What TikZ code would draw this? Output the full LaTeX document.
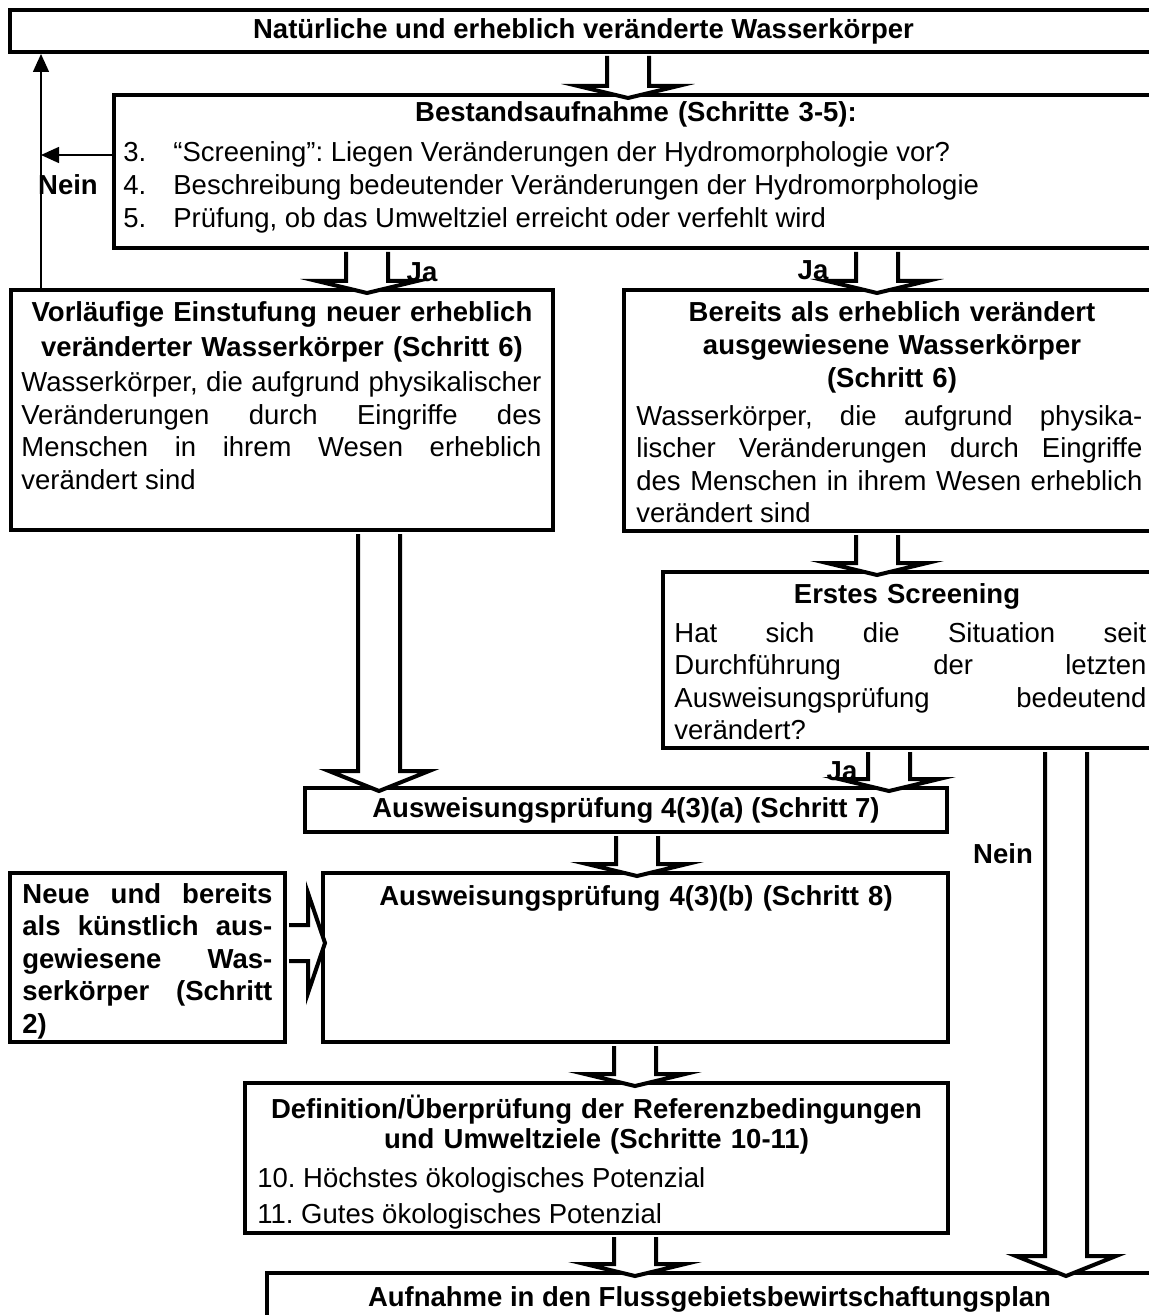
\documentclass[tikz,border=0pt]{standalone}
\usepackage{fontspec}
\setmainfont{Liberation Sans}
\usetikzlibrary{positioning,arrows.meta,calc}
\newcommand{\flowfont}{\fontsize{13.75pt}{16.25pt}\selectfont\frenchspacing\tolerance=10000 \hbadness=10000 \hyphenpenalty=10000 }
\newcommand{\flowbf}{\flowfont\bfseries}
% hollow block arrow downwards: [head length]{x}{from node}{to node}
\newcommand{\blockdown}[4][6pt]{%
  \filldraw[blockarrow] let \p1=(#3.south -| #2,0), \p2=(#4.north -| #2,0) in
    (\x1-10.5pt,\y1-1pt) -- (\x1-10.5pt,\y2-2.5pt+#1) -- (\x1-25pt,\y2-2.5pt+#1)
    -- (\x1,\y2-2.5pt) -- (\x1+25pt,\y2-2.5pt+#1) -- (\x1+10.5pt,\y2-2.5pt+#1)
    -- (\x1+10.5pt,\y1-1pt);}
% hollow block arrow to the right: {y}{from node}{to node}
\newcommand{\blockright}[3]{%
  \filldraw[blockarrow] let \p1=(#2.east |- 0,#1), \p2=(#3.west |- 0,#1) in
    (\x1+1pt,\y1+9pt) -- (\x2-6.5pt,\y1+9pt) -- (\x2-6.5pt,\y1+25pt)
    -- (\x2+2pt,\y1) -- (\x2-6.5pt,\y1-25pt) -- (\x2-6.5pt,\y1-9pt)
    -- (\x1+1pt,\y1-9pt);}

\begin{document}
\begin{tikzpicture}[x=0.5pt, y=-0.5pt,
  flowbox/.style={draw, line width=2pt, inner sep=0pt},
  boxtitle/.style={font=\flowbf, inner sep=0pt, align=center},
  boxtext/.style={font=\flowfont, inner sep=0pt, align=justify},
  yesno/.style={font=\flowbf, inner sep=0pt},
  blockarrow/.style={draw=black, fill=white, line width=2pt},
  thinarrow/.style={line width=0.75pt, -{Triangle[width=8pt,length=9pt]}}
]
  \fill[white] (0,0) rectangle (1149,1315);
  \useasboundingbox (0,0) rectangle (1149,1315);

  % Boxes (top to bottom)
  \node[flowbox, font=\flowbf, minimum width=573.5pt, minimum height=21pt]
    (natur) at (583.5,31) {Natürliche und erheblich veränderte Wasserkörper};
  \node[flowbox, minimum width=522pt, minimum height=76.5pt]
    (bestand) at (636,171.5) {};
  \node[flowbox, minimum width=271pt, minimum height=120pt]
    (vorl) at (282,410) {};
  \node[flowbox, minimum width=267pt, minimum height=120.5pt]
    (bereits) at (891,410.5) {};
  \node[flowbox, minimum width=244.5pt, minimum height=88pt]
    (erstes) at (907.5,660) {};
  \node[flowbox, font=\flowbf, minimum width=321pt, minimum height=22pt]
    (ausa) at (626,810) {Ausweisungsprüfung 4(3)(a) (Schritt 7)};
  \node[flowbox, minimum width=137.5pt, minimum height=84.5pt]
    (neue) at (147.5,957.5) {};
  \node[flowbox, minimum width=312.5pt, minimum height=84.5pt]
    (ausb) at (635.5,957.5) {};
  \node[flowbox, minimum width=351.5pt, minimum height=75pt]
    (defn) at (596.5,1158) {};
  \node[flowbox, font=\flowbf, minimum width=442.5pt, minimum height=26pt]
    (aufn) at (709.5,1299) {Aufnahme in den Flussgebietsbewirtschaftungsplan};

  % Box texts
  \node[boxtitle, text width=500pt, anchor=base] (bestand-title) at (636,122)
    {Bestandsaufnahme (Schritte 3-5):};
  \node[boxtext, anchor=base west] (bestand-3) at (123,162)
    {\makebox[25pt][l]{3.}“Screening”: Liegen Veränderungen der Hydromorphologie vor?};
  \node[boxtext, anchor=base west] (bestand-4) at (123,195)
    {\makebox[25pt][l]{4.}Beschreibung bedeutender Veränderungen der Hydromorphologie};
  \node[boxtext, anchor=base west] (bestand-5) at (123,228)
    {\makebox[25pt][l]{5.}Prüfung, ob das Umweltziel erreicht oder verfehlt wird};

  \node[boxtitle, text width=260pt, anchor=base] (vorl-title) at (282,322)
    {Vorläufige Einstufung neuer erheblich\\[1.25pt]veränderter Wasserkörper (Schritt 6)};
  \node[boxtext, text width=260pt, anchor=base west] (vorl-body) at (21,392)
    {Wasserkörper, die aufgrund physikalischer\linebreak
     Veränderungen durch Eingriffe des\linebreak
     Menschen in ihrem Wesen erheblich\linebreak
     verändert sind};

  \node[boxtitle, text width=253pt, anchor=base] (bereits-title) at (892,322)
    {Bereits als erheblich verändert\\[0.25pt]ausgewiesene Wasserkörper\\[0.25pt](Schritt 6)};
  \node[boxtext, text width=253pt, anchor=base west] (bereits-body) at (636,425)
    {Wasserkörper, die aufgrund physika-\linebreak
     lischer Veränderungen durch Eingriffe\linebreak
     des Menschen in ihrem Wesen erheblich\linebreak
     verändert sind};

  \node[boxtitle, text width=236pt, anchor=base] (erstes-title) at (907,603)
    {Erstes Screening};
  \node[boxtext, text width=236pt, anchor=base west] (erstes-body) at (674,642)
    {Hat sich die Situation seit\linebreak
     Durchführung der letzten\linebreak
     Ausweisungsprüfung bedeutend\linebreak
     verändert?};

  \node[boxtext, font=\flowbf, text width=125pt, anchor=base west] (neue-text) at (22,903)
    {Neue und bereits\linebreak
     als künstlich aus-\linebreak
     gewiesene Was-\linebreak
     serkörper (Schritt\linebreak
     2)};

  \node[boxtitle, text width=300pt, anchor=base] (ausb-title) at (636,905)
    {Ausweisungsprüfung 4(3)(b) (Schritt 8)};

  \node[boxtitle, text width=345pt, anchor=base] (defn-title) at (596.5,1118)
    {Definition/Überprüfung der Referenzbedingungen\\[-1.25pt]und Umweltziele (Schritte 10-11)};
  \node[boxtext, anchor=base west] (defn-10) at (257,1187)
    {10. Höchstes ökologisches Potenzial};
  \node[boxtext, anchor=base west] (defn-11) at (257,1223)
    {11. Gutes ökologisches Potenzial};

  % Ja / Nein labels
  \node[yesno, anchor=base] (nein-a) at (68,195) {Nein};
  \node[yesno, anchor=base] (ja-a) at (422,282) {Ja};
  \node[yesno, anchor=base] (ja-b) at (813,280) {Ja};
  \node[yesno, anchor=base] (ja-c) at (842,780) {Ja};
  \node[yesno, anchor=base] (nein-b) at (1003,863) {Nein};

  % Nein loop back to the top
  \coordinate (back) at (41,155);
  \draw[thinarrow] (back -| bestand.west) -- (back);
  \draw[thinarrow] (vorl.north -| back) -- (natur.south -| back);

  % Block arrows
  \blockdown{628}{natur}{bestand}
  \blockdown{367}{bestand}{vorl}
  \blockdown{877}{bestand}{bereits}
  \blockdown[10pt]{379}{vorl}{ausa}
  \blockdown{877}{bereits}{erstes}
  \blockdown{889}{erstes}{ausa}
  \blockdown{637}{ausa}{ausb}
  \blockdown{635}{ausb}{defn}
  \blockdown{635}{defn}{aufn}
  \blockdown[10pt]{1066}{erstes}{aufn}
  \blockright{943}{neue}{ausb}
\end{tikzpicture}
\end{document}
